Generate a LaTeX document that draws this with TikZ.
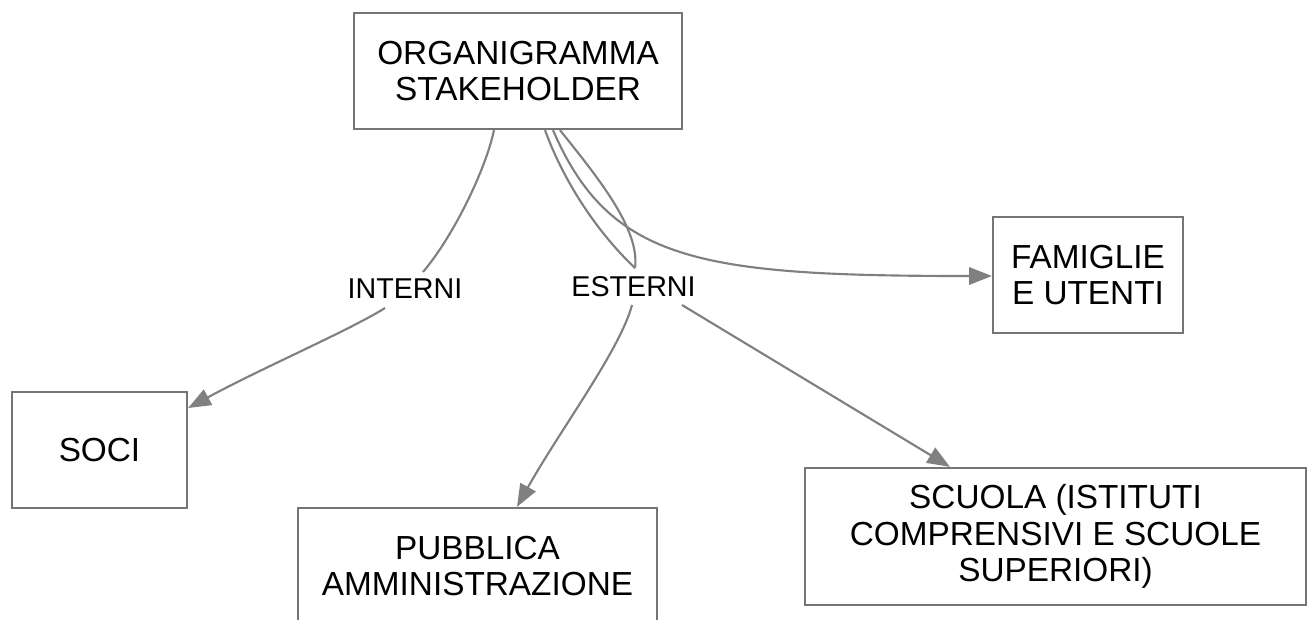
\documentclass[tikz,border=0pt]{standalone}
\usepackage{fontspec}
\setmainfont{Liberation Sans}
\usetikzlibrary{arrows.meta}
\definecolor{boxgray}{HTML}{757575}
\definecolor{linegray}{HTML}{808080}
\tikzset{
  box/.style={draw=boxgray, line width=1.7pt, fill=white, inner sep=0pt, align=center,
    font=\fontsize{25}{27.5}\selectfont, text=black},
  lbl/.style={inner sep=0pt, font=\fontsize{21.5}{24}\selectfont, text=black},
  conn/.style={draw=linegray, line width=1.6pt},
  arr/.style={conn, -{Triangle[length=17pt,width=13pt]}}
}
\begin{document}
\begin{tikzpicture}[x=0.75pt,y=-0.75pt]
\useasboundingbox (0,0) rectangle (1310,619);
\node[box, minimum width=246pt, minimum height=87pt] (top) at (518,71) {ORGANIGRAMMA\\STAKEHOLDER};
\node[box, minimum width=131.25pt, minimum height=87pt] (soci) at (99.5,450) {SOCI};
\node[box, minimum width=269.25pt, minimum height=87pt] (pa) at (477.5,566) {PUBBLICA\\AMMINISTRAZIONE};
\node[box, minimum width=375.75pt, minimum height=102.75pt] (scuola) at (1055.5,536.5) {SCUOLA (ISTITUTI\\COMPRENSIVI E SCUOLE\\SUPERIORI)};
\node[box, minimum width=142.5pt, minimum height=87pt] (fam) at (1088,275) {FAMIGLIE\\E UTENTI};
\node[lbl] (int) at (405,289) {INTERNI};
\node[lbl] (est) at (633.5,287) {ESTERNI};
% INTERNI
\draw[conn] ([shift={(-24,0)}]top.south) .. controls (485,172) and (452,238) .. ([shift={(18,-17)}]int.center);
\draw[arr] ([shift={(-20,19)}]int.center) .. controls (350,330) and (262,368) .. ([shift={(0,-42)}]soci.east);
% ESTERNI
\draw[conn] ([shift={(27,0)}]top.south) .. controls (565,185) and (600,235) .. ([shift={(1.5,-19)}]est.center);
\draw[conn] ([shift={(42,0)}]top.south) .. controls (600,180) and (640,230) .. ([shift={(1.5,-19)}]est.center);
\draw[arr] ([shift={(35,0)}]top.south) .. controls (610,262) and (700,276) .. ([shift={(0,1)}]fam.west);
\draw[arr] ([shift={(-1.5,18)}]est.center) .. controls (620,350) and (560,430) .. ([shift={(39.5,0)}]pa.north);
\draw[arr] ([shift={(48.5,18)}]est.center) -- ([shift={(-105.5,0)}]scuola.north);
\end{tikzpicture}
\end{document}
